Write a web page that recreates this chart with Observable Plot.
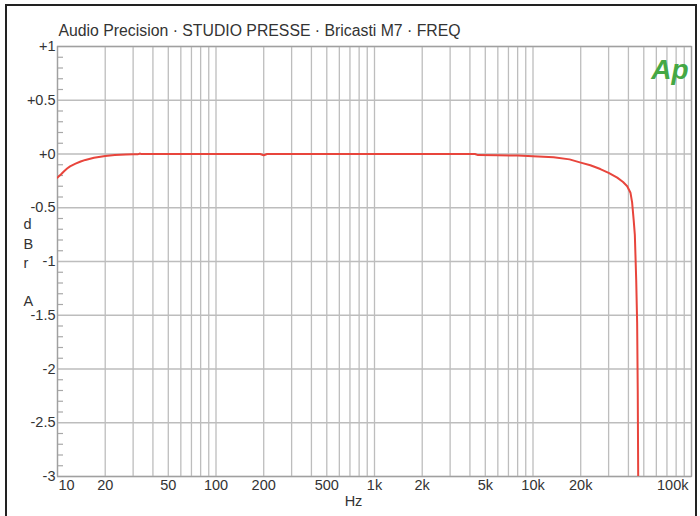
<!DOCTYPE html>
<html>
<head>
<meta charset="utf-8">
<script src="https://cdn.jsdelivr.net/npm/d3@7"></script>
<script src="https://cdn.jsdelivr.net/npm/@observablehq/plot@0.6"></script>
<style>
  body { margin: 0; background: #fff; }
  #wrap { position: relative; width: 700px; height: 516px; overflow: hidden; background: #fff; }
  #border { position: absolute; left: 5px; top: 4px; width: 688px; height: 540px; border: 2px solid #222; pointer-events: none; }
  #chart { position: absolute; left: 0; top: 0; }
</style>
</head>
<body>
<div id="wrap"><div id="chart"></div><div id="border"></div></div>
<script>
const title = "Audio Precision · STUDIO PRESSE · Bricasti M7 · FREQ";

// Frequency response (Hz, dBrA)
const freq = [10, 10.5, 11, 11.5, 12, 13, 14, 15, 17, 20, 23, 27, 30, 32, 33, 34, 40, 60, 100, 150, 190, 200, 210, 300, 500, 1000, 2000, 3000, 4300, 4500, 6000, 8000, 10000, 13500, 17000, 20000, 23000, 26600, 30000, 34000, 37000, 39300, 41200, 42200, 43200, 43900, 44800, 45400, 45800, 46100, 47000];
const dBrA = [-0.22, -0.19, -0.16, -0.135, -0.115, -0.09, -0.07, -0.055, -0.035, -0.018, -0.01, -0.005, -0.003, -0.003, 0.004, -0.001, 0, 0, 0, 0, 0, -0.012, 0, 0, 0, 0, 0, 0, 0, -0.01, -0.012, -0.015, -0.02, -0.03, -0.05, -0.08, -0.105, -0.14, -0.175, -0.22, -0.26, -0.30, -0.36, -0.45, -0.62, -0.75, -1.18, -1.57, -2.2, -3.0, -4.0];

// Axes
const xGridValues = [10, 20, 30, 40, 50, 60, 70, 80, 90,
  100, 200, 300, 400, 500, 600, 700, 800, 900,
  1000, 2000, 3000, 4000, 5000, 6000, 7000, 8000, 9000,
  10000, 20000, 30000, 40000, 50000, 60000, 70000, 80000, 90000, 100000];
const xTickValues = [20, 50, 100, 200, 500, 1000, 2000, 5000, 10000, 20000];
const xTickLabels = ["20", "50", "100", "200", "500", "1k", "2k", "5k", "10k", "20k"];
const xFirstLabel = ["10"];
const xFirstValue = [10];
const xLastLabel = ["100k"];
const xLastValue = [100000];

const yTickValues = [1, 0.5, 0, -0.5, -1, -1.5, -2, -2.5, -3];
const yTickLabels = ["+1", "+0.5", "+0", "-0.5", "-1", "-1.5", "-2", "-2.5", "-3"];
const yMinorValues = [0.9, 0.8, 0.7, 0.6, 0.4, 0.3, 0.2, 0.1, -0.1, -0.2, -0.3, -0.4, -0.6, -0.7, -0.8, -0.9,
  -1.1, -1.2, -1.3, -1.4, -1.6, -1.7, -1.8, -1.9, -2.1, -2.2, -2.3, -2.4, -2.6, -2.7, -2.8, -2.9];

const data = freq.map((f, i) => ({f, db: dBrA[i]}));
const font = "'Liberation Sans', Arial, sans-serif";
const txt = "#333";
const fs = 14.5;

const chart = Plot.plot({
  width: 700,
  height: 516,
  marginTop: 46,
  marginBottom: 40,
  marginLeft: 57,
  marginRight: 9,
  style: {background: "transparent", fontFamily: font},
  x: {type: "log", domain: [10, 100000], axis: null},
  y: {domain: [-3, 1], axis: null},
  marks: [
    Plot.ruleX(xGridValues, {x: d => d, stroke: "#bdbdbd", strokeWidth: 1.3}),
    Plot.ruleY(yTickValues, {y: d => d, stroke: "#bdbdbd", strokeWidth: 1.3}),
    Plot.tickY(yMinorValues, {y: d => d, insetRight: 628, stroke: "#a8a8a8", strokeWidth: 1.2}),
    Plot.frame({stroke: "#a0a0a0", strokeWidth: 1.3}),
    Plot.line(data, {x: "f", y: "db", stroke: "#e8453c", strokeWidth: 2, clip: true}),
    Plot.text(yTickValues, {y: d => d, text: (d, i) => yTickLabels[i], frameAnchor: "left", textAnchor: "end", dx: -2, fontSize: fs, fill: txt}),
    Plot.text(xTickValues, {x: d => d, text: (d, i) => xTickLabels[i], frameAnchor: "bottom", dy: 13, fontSize: fs, fill: txt}),
    Plot.text(xFirstValue, {x: d => d, text: (d, i) => xFirstLabel[i], frameAnchor: "bottom", textAnchor: "start", dx: 1, dy: 13, fontSize: fs, fill: txt}),
    Plot.text(xLastValue, {x: d => d, text: (d, i) => xLastLabel[i], frameAnchor: "bottom", textAnchor: "end", dx: -3, dy: 13, fontSize: fs, fill: txt}),
    Plot.text(["Hz"], {frameAnchor: "bottom", dx: -21, dy: 29, fontSize: fs, fill: txt}),
    Plot.text(["d\nB\nr\n\nA"], {y: [-1], frameAnchor: "left", dx: -34, fontSize: fs, lineHeight: 1.32, fill: txt}),
    Plot.text([title], {frameAnchor: "top-left", textAnchor: "start", dx: 1, dy: -22, fontSize: 15.8, fill: txt}),
    Plot.text(["Ap"], {frameAnchor: "top-right", textAnchor: "end", dx: -3, dy: 13, fontSize: 28, fontWeight: "bold", fontStyle: "italic", fill: "#45a845", letterSpacing: "-1px"})
  ]
});
document.getElementById("chart").appendChild(chart);
</script>
</body>
</html>
